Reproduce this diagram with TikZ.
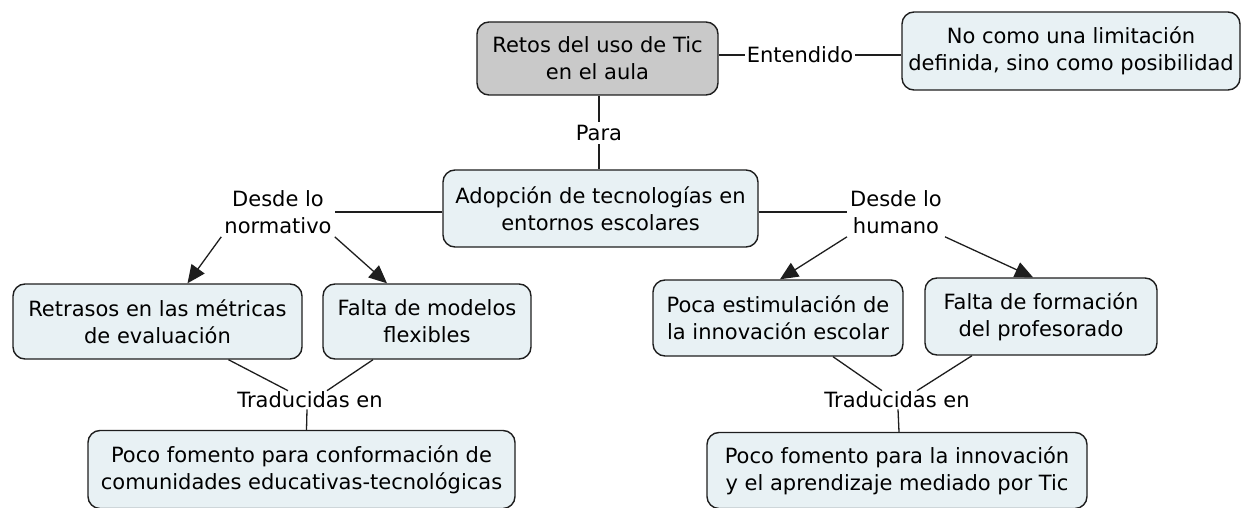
\documentclass[tikz,border=0pt]{standalone}
\usepackage{fontspec}
\setmainfont{DejaVu Sans}
\usetikzlibrary{arrows.meta}
\definecolor{cfill}{HTML}{E8F1F4}
\definecolor{gfill}{HTML}{C9C9C9}
\definecolor{edge}{HTML}{1E1E1E}
\tikzset{
  concept/.style={draw=edge, line width=1.4pt, rounded corners=12pt, fill=cfill,
    align=center, inner sep=0pt, font=\fontsize{21}{27}\selectfont},
  lbl/.style={align=center, inner sep=3pt, font=\fontsize{21}{27}\selectfont},
  conn/.style={draw=edge, line width=1.3pt},
  arr/.style={conn, -{Triangle[length=18pt,width=16pt]}}
}
\begin{document}
\begin{tikzpicture}[x=1pt,y=-1pt]
\useasboundingbox (0,0) rectangle (1248,508);
% concepts
\node[concept, fill=gfill, minimum width=241, minimum height=73] (retos) at (597.5,58.5) {Retos del uso de Tic\\en el aula};
\node[concept, minimum width=338, minimum height=78] (nocomo) at (1071,51) {No como una limitación\\definida, sino como posibilidad};
\node[concept, minimum width=315, minimum height=77] (adop) at (600.5,208.5) {Adopción de tecnologías en\\entornos escolares};
\node[concept, minimum width=289, minimum height=75] (retr) at (157.5,321.5) {Retrasos en las métricas\\de evaluación};
\node[concept, minimum width=208, minimum height=75] (falm) at (427,321.5) {Falta de modelos\\flexibles};
\node[concept, minimum width=250, minimum height=76] (poca) at (778,318) {Poca estimulación de\\la innovación escolar};
\node[concept, minimum width=232, minimum height=77] (falf) at (1041,316.5) {Falta de formación\\del profesorado};
\node[concept, minimum width=427, minimum height=78] (pfl) at (301.5,469.5) {Poco fomento para conformación de\\comunidades educativas-tecnológicas};
\node[concept, minimum width=380, minimum height=76] (pfr) at (897,470.5) {Poco fomento para la innovación\\y el aprendizaje mediado por Tic};
% linking phrases
\node[lbl, inner sep=2pt] (ent) at (800,55) {Entendido};
\node[lbl] (para) at (599,133) {Para};
\node[lbl] (norm) at (278,212) {Desde lo\\normativo};
\node[lbl] (hum) at (896,212) {Desde lo\\humano};
\node[lbl, inner sep=1pt] (tradl) at (310,400) {Traducidas en};
\node[lbl, inner sep=1pt] (tradr) at (897,400) {Traducidas en};
% connectors
\draw[conn] (ent.west -| retos.east) -- (ent.west);
\draw[conn] (ent.east) -- (ent.east -| nocomo.west);
\draw[conn] (para |- retos.south) -- (para.north);
\draw[conn] (para.south) -- (para |- adop.north);
\draw[conn] (adop.west |- norm.east) -- (norm.east);
\draw[conn] (adop.east |- hum.west) -- (hum.west);
\draw[arr] (norm.south west) -- ([xshift=30]retr.north);
\draw[arr] (norm.south east) -- ([xshift=-40]falm.north);
\draw[arr] (hum.south west) -- ([xshift=2]poca.north);
\draw[arr] (hum.south east) -- ([xshift=-8]falf.north);
\draw[conn] ([xshift=71]retr.south) -- ([xshift=-22]tradl.north);
\draw[conn] ([xshift=-54]falm.south) -- ([xshift=17]tradl.north);
\draw[conn] ([xshift=55]poca.south) -- ([xshift=-15]tradr.north);
\draw[conn] ([xshift=-69]falf.south) -- ([xshift=20]tradr.north);
\draw[conn] ([xshift=-3]tradl.south) -- ([xshift=5]pfl.north);
\draw[conn] ([xshift=1]tradr.south) -- ([xshift=2]pfr.north);
\end{tikzpicture}
\end{document}
